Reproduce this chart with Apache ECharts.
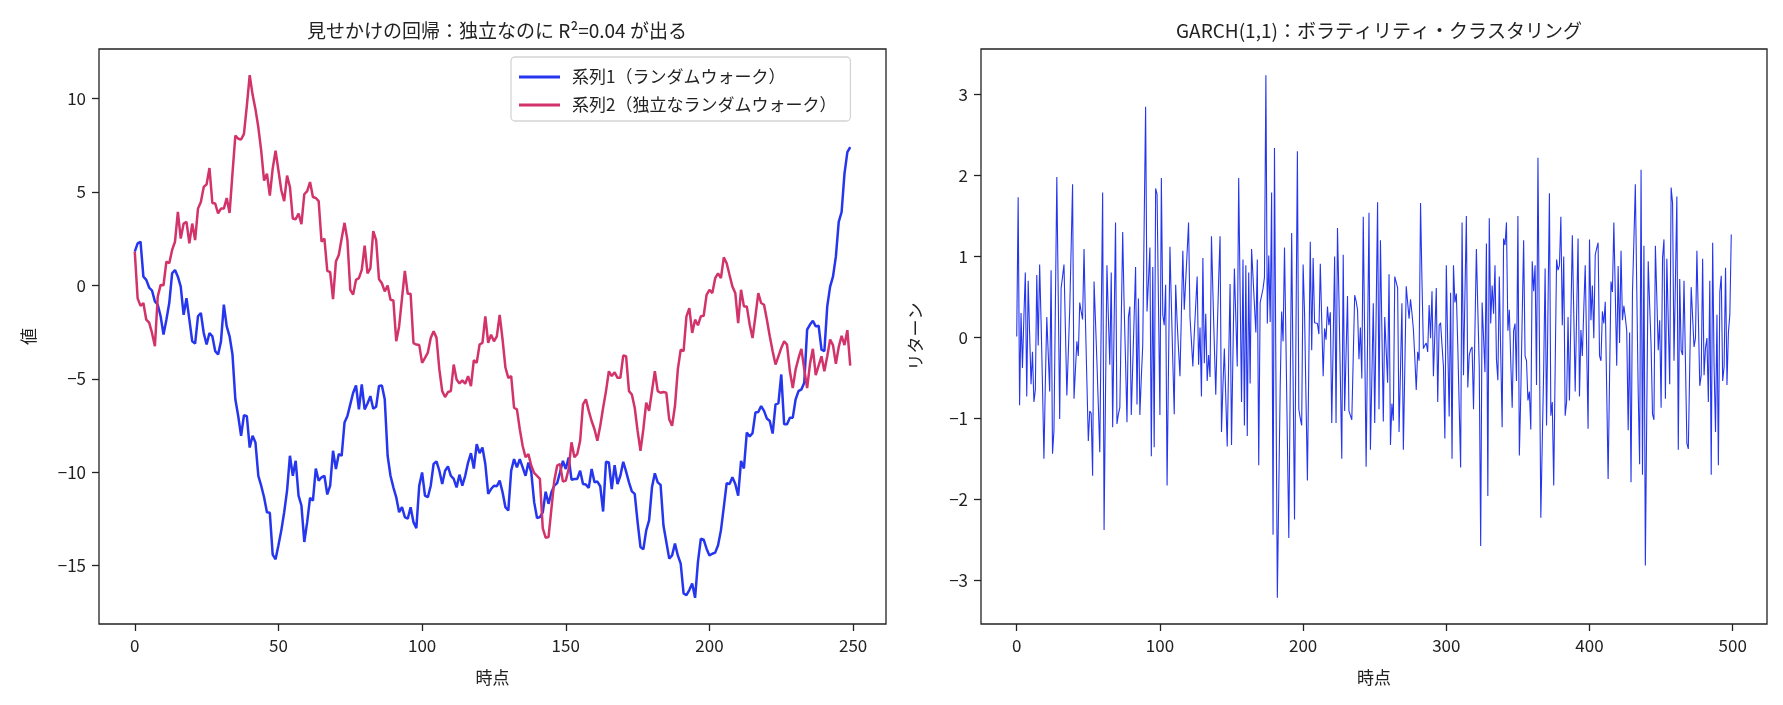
<!DOCTYPE html>
<html>
<head>
<meta charset="utf-8">
<script src="https://cdn.jsdelivr.net/npm/echarts@6/dist/echarts.min.js"></script>
<style>
  html, body { margin: 0; padding: 0; background: #fff; }
  #chart { width: 1783px; height: 705px; }
</style>
</head>
<body>
<div id="chart"></div>
<script>
// 左：独立な2本のランダムウォーク（t = 0..249）
const walk1 = [
  1.80, 2.24, 2.33, 0.46, 0.29, -0.12, -0.28, -0.86, -1.04, -1.66,
  -2.64, -1.84, -0.95, 0.64, 0.82, 0.46, -0.07, -1.58, -0.69, -1.84,
  -3.00, -3.12, -1.66, -1.48, -2.55, -3.17, -2.55, -2.73, -3.53, -3.70,
  -3.00, -1.04, -2.20, -2.73, -3.70, -6.10, -6.99, -8.05, -6.95, -7.00,
  -8.68, -8.05, -8.41, -10.20, -10.72, -11.34, -12.14, -12.17, -14.41, -14.66,
  -13.91, -13.11, -12.14, -10.98, -9.12, -10.19, -9.39, -11.25, -11.78, -13.73,
  -12.67, -11.37, -11.52, -9.80, -10.45, -10.27, -10.19, -11.19, -10.72, -8.85,
  -9.83, -9.03, -9.12, -7.34, -6.99, -6.37, -5.75, -5.36, -6.64, -5.30,
  -6.64, -6.32, -5.93, -6.60, -6.50, -5.39, -5.36, -6.10, -9.12, -10.19,
  -10.81, -11.34, -12.14, -11.87, -12.40, -12.49, -11.87, -12.67, -12.99, -10.72,
  -10.01, -11.25, -11.34, -10.72, -9.56, -9.42, -9.92, -10.63, -9.92, -9.69,
  -10.19, -10.36, -10.81, -10.13, -10.72, -10.19, -9.48, -8.98, -9.80, -8.50,
  -8.98, -8.68, -9.56, -11.16, -10.90, -10.72, -10.75, -10.45, -11.07, -11.87,
  -12.05, -9.92, -9.30, -9.74, -9.30, -9.74, -10.19, -9.48, -10.01, -11.60,
  -12.45, -12.40, -12.14, -11.04, -11.69, -11.07, -10.72, -10.58, -10.01, -9.39,
  -9.83, -9.21, -10.40, -10.36, -10.36, -9.92, -10.63, -10.66, -10.84, -9.83,
  -10.54, -10.50, -10.75, -12.10, -9.44, -9.48, -10.90, -9.62, -10.63, -10.19,
  -9.44, -9.97, -10.54, -11.02, -11.16, -12.67, -14.00, -14.12, -13.11, -12.58,
  -10.81, -10.06, -10.54, -10.68, -12.85, -13.73, -14.62, -14.45, -13.82, -14.45,
  -14.89, -16.48, -16.57, -16.30, -15.95, -16.72, -14.80, -13.56, -13.61, -14.09,
  -14.45, -14.36, -14.30, -13.91, -13.11, -11.87, -10.58, -10.63, -10.27, -10.63,
  -11.25, -9.39, -9.80, -7.88, -8.09, -7.91, -6.81, -6.78, -6.46, -6.72,
  -7.13, -7.26, -7.93, -6.37, -6.32, -4.77, -7.43, -7.43, -7.08, -7.08,
  -6.10, -5.66, -5.57, -5.22, -2.37, -2.10, -1.90, -2.20, -2.16, -3.44,
  -3.53, -1.13, -0.07, 0.46, 1.53, 3.39, 3.92, 5.97, 7.12, 7.39
]
const walk2 = [
  1.80, -0.70, -1.10, -0.95, -1.84, -2.00, -2.55, -3.26, -0.60, 0.02,
  0.00, 1.27, 1.18, 1.89, 2.33, 3.93, 2.50, 3.30, 3.39, 2.24,
  3.30, 2.42, 4.10, 4.46, 5.26, 5.40, 6.27, 4.40, 4.37, 3.84,
  4.10, 4.10, 4.67, 3.87, 5.97, 8.00, 7.84, 7.80, 8.10, 9.60,
  11.24, 10.20, 9.42, 8.45, 7.20, 5.60, 5.97, 4.80, 6.24, 7.20,
  6.14, 5.08, 4.50, 5.87, 5.26, 3.57, 3.53, 3.84, 3.27, 4.87,
  5.04, 5.52, 4.72, 4.67, 4.50, 2.33, 2.50, 0.77, 0.70, -0.74,
  1.27, 1.62, 2.50, 3.34, 2.42, -0.24, -0.50, 0.29, 0.38, 0.82,
  2.12, 0.64, 0.91, 2.90, 2.42, 0.32, 0.11, -0.33, -0.01, -0.77,
  -0.81, -2.99, -2.20, -0.70, 0.77, -0.46, -0.46, -3.10, -3.17, -3.20,
  -4.15, -3.88, -3.60, -2.82, -2.46, -2.80, -4.50, -5.66, -5.98, -5.71,
  -5.66, -4.24, -5.04, -5.25, -5.09, -5.27, -4.86, -5.40, -4.00, -4.15,
  -3.17, -3.08, -1.66, -3.08, -2.64, -3.00, -2.73, -1.58, -2.90, -4.40,
  -4.95, -4.86, -6.55, -6.64, -7.70, -8.60, -9.20, -9.03, -9.65, -10.04,
  -10.20, -10.36, -13.00, -13.50, -13.47, -11.96, -10.45, -9.65, -9.56, -10.50,
  -10.45, -9.83, -8.40, -9.20, -9.03, -8.32, -6.37, -6.10, -6.72, -7.26,
  -7.70, -8.32, -7.52, -6.55, -5.66, -4.60, -4.86, -4.65, -4.95, -4.95,
  -3.76, -3.80, -5.66, -5.84, -6.55, -7.79, -8.85, -7.70, -6.28, -6.72,
  -5.66, -4.60, -5.66, -5.75, -5.71, -5.75, -7.17, -7.52, -6.46, -4.50,
  -3.44, -3.53, -1.66, -1.22, -2.55, -1.84, -2.14, -1.66, -1.63, -0.51,
  -0.24, -0.42, 0.38, 0.64, 0.38, 1.49, 1.18, 0.55, -0.07, -0.42,
  -2.02, -0.24, -1.13, -1.13, -2.10, -2.82, -1.66, -0.42, -0.95, -1.04,
  -1.84, -2.73, -3.53, -4.24, -3.80, -3.35, -3.00, -3.17, -4.60, -5.50,
  -4.50, -3.90, -3.40, -4.50, -5.50, -4.20, -3.40, -4.80, -4.30, -3.80,
  -4.60, -3.80, -2.90, -3.20, -4.20, -3.30, -2.70, -3.20, -2.40, -4.30
]
// 右：GARCH(1,1) のリターン（t = 0..499）
const garchReturns = [
  0.01, 1.73, -0.84, 0.30, -0.38, 0.25, 0.80, -0.73, 0.70, 0.05,
  -0.58, -0.18, -0.80, -0.65, 0.77, -0.10, 0.90, 0.20, -0.60, -1.50,
  -0.55, 0.25, -0.20, -0.67, 0.83, -1.44, -1.15, 0.40, 1.98, 0.50,
  -1.01, 0.61, 0.75, 0.90, 0.10, -0.72, -0.20, 0.34, 1.10, 1.89,
  -0.76, -0.40, -0.05, -0.23, 0.43, 0.32, 0.22, 1.09, 0.20, -0.55,
  -1.28, -0.91, -0.94, -1.71, 0.69, 0.20, -0.30, -0.85, -1.42, 0.20,
  1.79, -2.38, -0.70, 0.89, 0.25, -0.34, 0.80, -1.11, 0.15, 1.42,
  -1.07, -0.95, -0.87, 0.20, 1.30, 0.40, -0.30, -1.05, 0.25, 0.38,
  -0.96, -0.35, 0.25, 0.87, -0.83, 0.48, -0.96, -0.50, -0.10, 1.40,
  2.85, 0.32, 0.70, 1.11, -1.47, 0.87, -1.36, 1.84, 1.77, 0.40,
  -0.96, 1.97, 0.28, 0.15, 0.65, -1.83, -0.35, 1.12, 0.40, -0.30,
  -0.95, 0.65, 0.20, -0.15, -0.48, 0.30, 1.07, 0.34, 0.70, 1.05,
  1.42, 0.25, -0.05, -0.36, 0.05, 0.40, 0.75, -0.34, 0.12, -0.73,
  0.98, -0.32, 0.29, -0.54, -0.22, -0.49, 1.25, 0.55, -0.10, -0.71,
  0.05, 0.70, 1.25, -1.17, -0.60, -0.14, -0.75, -1.35, -0.30, 0.66,
  -1.33, -0.20, 0.85, 0.87, -0.36, 1.97, 0.55, -0.80, 0.96, -1.09,
  0.89, -1.22, 0.80, -0.57, 1.09, 0.75, 0.40, 0.06, 0.96, -1.58,
  0.43, 0.42, 0.60, 0.74, 3.24, 0.17, 1.01, 0.19, 1.79, -2.44,
  2.34, -0.45, -3.22, -1.90, -0.60, 0.32, -0.05, 1.11, -0.05, -0.07,
  -2.48, -0.60, 1.29, -0.50, -2.25, 0.05, 2.30, -0.89, -1.00, -1.09,
  0.90, 0.30, -0.75, -1.77, -0.30, 1.18, -0.16, 0.98, 0.18, 0.20,
  0.17, 0.04, 0.91, 0.20, -0.48, 0.11, -0.03, 0.38, 0.15, 0.31,
  -1.06, -0.05, 1.00, -1.06, 1.35, 0.50, -0.50, -1.50, 1.02, -0.91,
  -0.20, 0.51, -0.91, -0.89, -1.02, -0.25, 0.52, 0.45, 0.34, -0.27,
  0.12, -0.51, 1.49, -0.05, -1.60, -0.05, 1.54, -1.39, -0.50, 0.42,
  -1.06, 0.30, 1.67, -0.89, 1.20, 0.10, -1.04, 0.25, 0.25, -0.56,
  0.78, -1.33, -0.82, -1.03, 0.75, 0.76, 0.61, -1.17, -0.40, 0.42,
  -1.39, -0.40, 0.63, 0.64, 0.23, 0.47, 0.30, 0.10, -0.25, -0.65,
  -0.18, -0.29, 1.66, 0.70, -0.14, -0.10, -0.07, -0.18, 0.40, -0.01,
  0.57, -0.48, 0.05, 0.61, -0.80, 0.15, 0.18, -0.10, -0.36, -1.25,
  0.89, -0.10, -0.98, 0.55, -1.50, 0.89, 0.43, 0.54, -0.10, -0.85,
  -1.61, 1.42, -0.47, -0.48, 1.50, -0.62, -0.22, -0.15, -0.12, -0.89,
  0.10, 1.09, 0.35, -0.36, -2.58, 0.43, 0.00, -0.43, 1.16, -1.96,
  1.47, 0.17, 0.64, 0.29, 0.89, -0.27, -0.53, 0.75, -0.20, -1.11,
  1.22, 1.14, 1.42, 0.08, 0.34, -0.30, -0.87, 0.08, 0.17, -0.54,
  1.50, -1.46, -0.71, 0.25, 1.20, -0.23, -0.29, -0.78, -0.67, -1.14,
  0.94, 0.57, 0.89, -0.59, 2.22, 0.00, -2.23, -1.30, -0.40, 0.85,
  -1.09, 0.35, 1.78, -0.97, -0.80, -1.83, -0.40, 0.96, 0.83, 0.89,
  1.49, 0.15, 1.00, -0.97, -0.80, 0.25, -0.78, 0.25, 1.26, 0.30,
  -0.67, -0.67, 1.22, -0.73, 0.09, -0.23, 0.35, 0.89, -0.10, -1.13,
  1.21, 0.21, 0.64, -0.01, 1.02, 1.10, 1.17, -0.23, -0.29, 0.32,
  0.17, 0.44, -0.65, -1.75, -0.50, 0.69, 0.56, 1.42, 0.55, -0.35,
  0.88, -0.07, 1.07, 0.21, 0.39, 0.25, 0.08, -1.15, 0.06, -1.79,
  0.56, 1.20, 1.89, 0.60, -0.67, -1.57, 2.07, -1.70, 1.13, -2.82,
  -0.90, 0.94, 0.40, -0.10, -0.95, -1.02, 1.13, 0.50, -0.16, 0.21,
  -0.87, 0.98, 1.21, -0.76, 0.97, 0.20, -0.58, 1.85, 1.66, -0.29,
  0.70, 1.74, -1.39, 0.72, -0.16, -0.22, 0.70, -0.30, -1.31, -1.38,
  -0.35, 0.62, 0.25, -0.12, -0.01, 1.07, 0.25, -0.60, -0.47, 0.97,
  -0.47, -0.13, -0.01, -0.80, 0.70, -1.70, 1.17, -0.36, -1.17, 0.28,
  -1.58, 0.56, 0.76, -0.54, -0.36, 0.86, -0.59, 0.06, 0.28, 1.27
]

const walkTicksX = [0, 50, 100, 150, 200, 250]
const walkTicksY = [-15, -10, -5, 0, 5, 10]
const garchTicksX = [0, 100, 200, 300, 400, 500]
const garchTicksY = [-3, -2, -1, 0, 1, 2, 3]
const walkNames = ['系列1（ランダムウォーク）', '系列2（独立なランダムウォーク）']

const FONT = '"Noto Sans CJK JP", "Noto Sans", sans-serif'
const BLUE = '#2536ee'
const RED = '#d2336a'
const INK = '#222'

// matplotlib と同じく両端に 5% の余白
const pad = (lo, hi) => [lo - (hi - lo) * 0.05, hi + (hi - lo) * 0.05]
const toPairs = arr => arr.map((v, i) => [i, v])
const minus = v => String(v).replace('-', '\u2212')

const walkX = pad(0, walk1.length - 1)
const walkY = pad(Math.min(...walk1, ...walk2), Math.max(...walk1, ...walk2))
const garchX = pad(0, garchReturns.length - 1)
const garchY = pad(Math.min(...garchReturns), Math.max(...garchReturns))

const axis = (gridIndex, range, ticks, extra) => Object.assign({
  type: 'value',
  gridIndex,
  min: range[0],
  max: range[1],
  splitLine: { show: false },
  axisLine: { show: false, onZero: false },
  axisTick: { show: true, length: 7, customValues: ticks, lineStyle: { color: INK, width: 1.3 } },
  axisLabel: {
    customValues: ticks,
    formatter: minus,
    color: INK,
    fontFamily: FONT,
    fontSize: 17,
    margin: 13
  },
  nameLocation: 'middle',
  nameTextStyle: { color: INK, fontFamily: FONT, fontSize: 17 }
}, extra)

const chart = echarts.init(document.getElementById('chart'), null, { renderer: 'canvas' })

chart.setOption({
  animation: false,
  backgroundColor: '#fff',
  title: [
    {
      text: '見せかけの回帰：独立なのに R²=0.04 が出る',
      left: 492, top: 16, textAlign: 'center',
      textStyle: { fontFamily: FONT, fontSize: 19, fontWeight: 'normal', color: INK }
    },
    {
      text: 'GARCH(1,1)：ボラティリティ・クラスタリング',
      left: 1374, top: 16, textAlign: 'center',
      textStyle: { fontFamily: FONT, fontSize: 19, fontWeight: 'normal', color: INK }
    }
  ],
  legend: {
    data: walkNames,
    left: 511, top: 57,
    orient: 'vertical',
    icon: 'rect',
    itemWidth: 41, itemHeight: 3,
    itemGap: 8,
    padding: [10, 14, 6, 8],
    selectedMode: false,
    backgroundColor: 'rgba(255,255,255,0.85)',
    borderColor: '#d4d4d4', borderWidth: 1.3, borderRadius: 4,
    textStyle: { fontFamily: FONT, fontSize: 17, color: INK, lineHeight: 20, padding: [0, 0, 0, 7] }
  },
  grid: [
    { left: 99, top: 49, width: 787, height: 575, show: true, borderColor: INK, borderWidth: 1.3, backgroundColor: 'transparent' },
    { left: 981, top: 49, width: 786, height: 575, show: true, borderColor: INK, borderWidth: 1.3, backgroundColor: 'transparent' }
  ],
  xAxis: [
    axis(0, walkX, walkTicksX, { name: '時点', nameGap: 45 }),
    axis(1, garchX, garchTicksX, { name: '時点', nameGap: 45 })
  ],
  yAxis: [
    axis(0, walkY, walkTicksY, { name: '値', nameGap: 62, nameRotate: 90 }),
    axis(1, garchY, garchTicksY, { name: 'リターン', nameGap: 57, nameRotate: 90 })
  ],
  series: [
    {
      name: walkNames[0], type: 'line', xAxisIndex: 0, yAxisIndex: 0,
      data: toPairs(walk1), showSymbol: false,
      itemStyle: { color: BLUE }, lineStyle: { color: BLUE, width: 2.5 }
    },
    {
      name: walkNames[1], type: 'line', xAxisIndex: 0, yAxisIndex: 0,
      data: toPairs(walk2), showSymbol: false,
      itemStyle: { color: RED }, lineStyle: { color: RED, width: 2.5 }
    },
    {
      name: 'リターン', type: 'line', xAxisIndex: 1, yAxisIndex: 1,
      data: toPairs(garchReturns), showSymbol: false,
      itemStyle: { color: BLUE }, lineStyle: { color: BLUE, width: 1.1 }
    }
  ]
})
</script>
</body>
</html>
